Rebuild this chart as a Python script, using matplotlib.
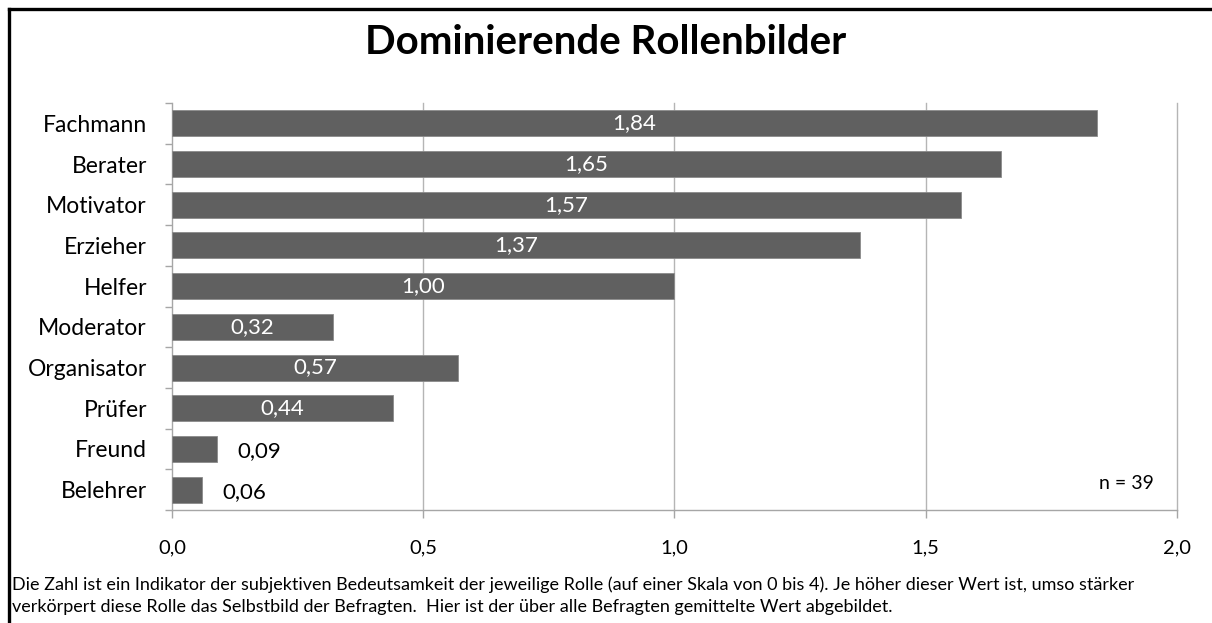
import matplotlib
matplotlib.use("Agg")
import matplotlib.pyplot as plt
from matplotlib.lines import Line2D

# Data (top to bottom as in the chart)
roles = ["Fachmann", "Berater", "Motivator", "Erzieher", "Helfer",
         "Moderator", "Organisator", "Prüfer", "Freund", "Belehrer"]
values = [1.84, 1.65, 1.57, 1.37, 1.00, 0.32, 0.57, 0.44, 0.09, 0.06]
x_ticks = [0.0, 0.5, 1.0, 1.5, 2.0]

title = "Dominierende Rollenbilder"
note = ("Die Zahl ist ein Indikator der subjektiven Bedeutsamkeit der jeweilige Rolle "
        "(auf einer Skala von 0 bis 4). Je höher dieser Wert ist, umso stärker\n"
        "verkörpert diese Rolle das Selbstbild der Befragten.  Hier ist der über "
        "alle Befragten gemittelte Wert abgebildet.")
n_label = "n = 39"

plt.rcParams['font.family'] = ['Lato', 'DejaVu Sans']

W, H = 1212, 623
fig = plt.figure(figsize=(W / 100, H / 100), dpi=100)
ax = fig.add_axes([172 / W, 1 - 510 / H, (1177 - 172) / W, (510 - 103) / H])

bar_color = "#606060"
axis_color = "#a6a6a6"
ypos = list(range(len(roles)))
ax.barh(ypos, values, height=0.64, color=bar_color, edgecolor="#8a8a8a",
        linewidth=0.6, zorder=3)

ax.set_xlim(0, 2.0)
ax.set_ylim(len(roles) - 0.5, -0.5)

ax.set_yticks(ypos)
ax.set_yticklabels(roles, fontsize=16.5)
ax.set_yticks([i - 0.5 for i in range(len(roles) + 1)], minor=True)
ax.tick_params(axis='y', which='major', length=0, pad=18)
ax.tick_params(axis='y', which='minor', length=5, color=axis_color, width=1)

ax.set_xticks(x_ticks)
ax.set_xticklabels([f"{t:.1f}".replace(".", ",") for t in x_ticks], fontsize=14.5)
ax.tick_params(axis='x', length=6, color=axis_color, width=1, pad=15)

ax.grid(False)
for t in x_ticks[1:]:
    ax.axvline(t, color="#b5b5b5", linewidth=1, zorder=0, clip_on=False)
for s in ["top", "right"]:
    ax.spines[s].set_visible(False)
for s in ["left", "bottom"]:
    ax.spines[s].set_color(axis_color)
    ax.spines[s].set_linewidth(1)

# value labels
for y, v in zip(ypos, values):
    txt = f"{v:.2f}".replace(".", ",")
    if v > 0.2:
        ax.text(v / 2, y, txt, ha='center', va='center', color='white',
                fontsize=16, zorder=4)
    else:
        ax.text(v + 0.04, y + 0.05, txt, ha='left', va='center', color='black',
                fontsize=16, zorder=4)

ax.text(0.977, 0.066, n_label, transform=ax.transAxes, ha='right', va='center',
        fontsize=14)

fig.text(0.5, 1 - 43 / H, title, ha='center', va='center', fontsize=29,
         fontweight='bold')
fig.text(12 / W, 1 - 596 / H, note, ha='left', va='center', fontsize=13,
         linespacing=1.45)

# frame around the chart (left and top edges visible)
fig.add_artist(Line2D([8.5 / W, 8.5 / W], [0, 1 - 8.5 / H], transform=fig.transFigure,
                      color='black', linewidth=2.4))
fig.add_artist(Line2D([8.5 / W, 1], [1 - 8.5 / H, 1 - 8.5 / H], transform=fig.transFigure,
                      color='black', linewidth=2.4))

fig.savefig("out.png", dpi=100)
